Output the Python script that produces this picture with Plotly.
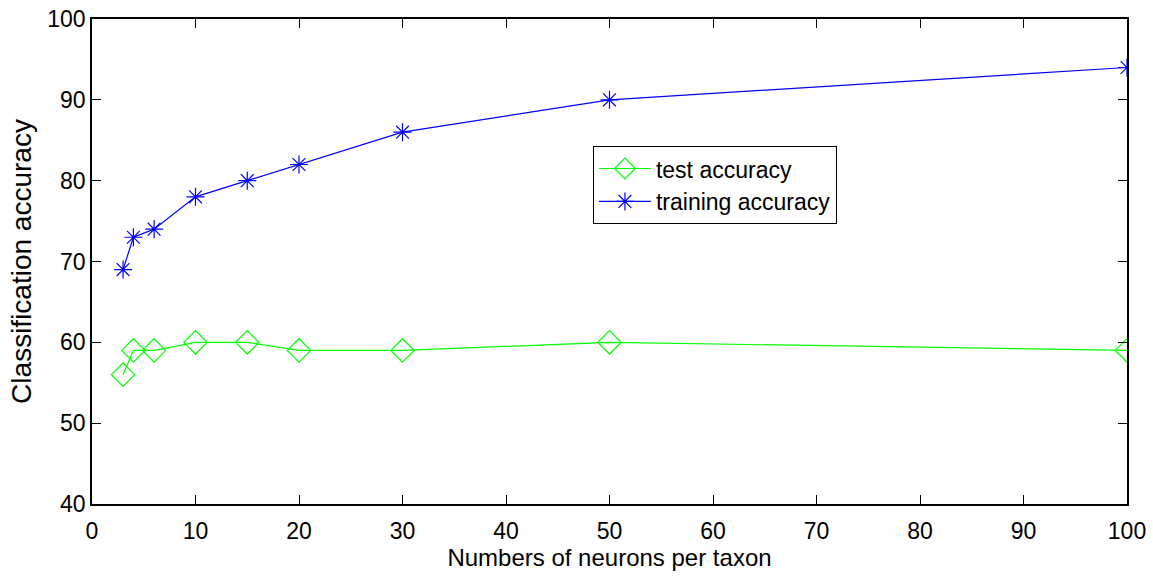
import plotly.graph_objects as go

neurons = [3, 4, 6, 10, 15, 20, 30, 50, 100]
test_acc = [56, 59, 59, 60, 60, 59, 59, 60, 59]
train_acc = [69, 73, 74, 78, 80, 82, 86, 90, 94]

x_ticks = [0, 10, 20, 30, 40, 50, 60, 70, 80, 90, 100]
y_ticks = [40, 50, 60, 70, 80, 90, 100]

FONT = "Liberation Sans, Arial, sans-serif"

fig = go.Figure()
fig.add_trace(go.Scatter(
    x=neurons, y=test_acc, mode="lines+markers", name="test accuracy",
    line=dict(color="#00ff00", width=1.2),
    marker=dict(symbol="diamond-open", size=18, color="#00ff00", line=dict(width=1.2, color="#00ff00")),
))
fig.add_trace(go.Scatter(
    x=neurons, y=train_acc, mode="lines+markers", name="training accuracy",
    line=dict(color="#0000ff", width=1.2),
    marker=dict(symbol="asterisk-open", size=15, color="#0000ff", line=dict(width=1.2, color="#0000ff")),
))

axis_common = dict(
    showline=True, linecolor="black", linewidth=1.5, mirror="allticks",
    ticks="inside", ticklen=9, tickwidth=1, tickcolor="black",
    showgrid=False, zeroline=False, automargin=False,
    tickfont=dict(family=FONT, size=23, color="black"),
)

fig.update_layout(
    width=1153, height=576,
    margin=dict(l=92, r=26, t=19, b=72),
    paper_bgcolor="white", plot_bgcolor="white",
    font=dict(family=FONT, size=23, color="black"),
    showlegend=True,
    legend=dict(
        x=0.484, y=0.738, xanchor="left", yanchor="top",
        bordercolor="black", borderwidth=1, bgcolor="white",
        font=dict(family=FONT, size=23, color="black"),
        tracegroupgap=0, itemwidth=52,
    ),
    xaxis=dict(
        range=[0, 100], tickvals=x_ticks, ticklabelstandoff=6,
        title=dict(text="Numbers of neurons per taxon", standoff=5,
                   font=dict(family=FONT, size=24, color="black")),
        **axis_common,
    ),
    yaxis=dict(
        range=[40, 100], tickvals=y_ticks,
        title=dict(text="Classification accuracy", standoff=7,
                   font=dict(family=FONT, size=28, color="black")),
        **axis_common,
    ),
)

fig.write_html("out.html")
